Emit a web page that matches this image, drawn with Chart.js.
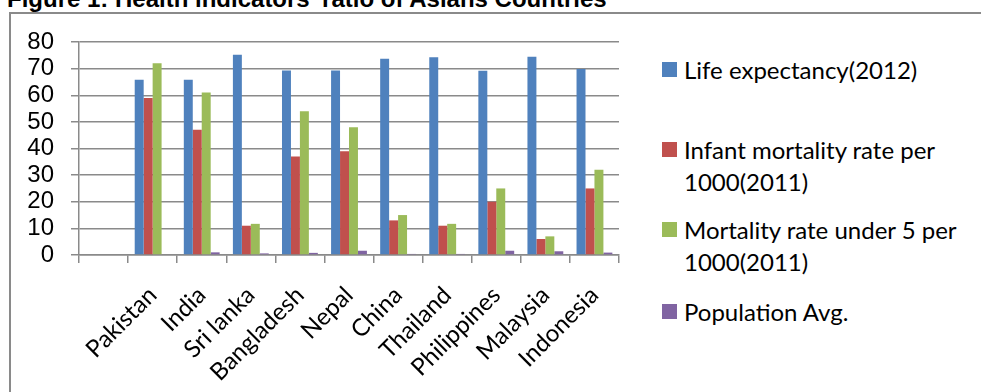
<!DOCTYPE html>
<html>
<head>
<meta charset="utf-8">
<script src="https://cdn.jsdelivr.net/npm/chart.js@4.4.1/dist/chart.umd.min.js"></script>
<style>
  html, body { margin: 0; padding: 0; background: #fff; overflow: hidden; }
  #title {
    position: absolute; left: 7px; top: -13px; white-space: nowrap;
    font: bold 24px/24px "Liberation Sans", Arial, sans-serif; color: #000;
  }
  #frame {
    position: absolute; left: 9px; top: 12px; width: 2000px; height: 2000px;
    border-left: 2px solid #8a8a8a; border-top: 2px solid #8a8a8a;
  }
  #wrap { position: absolute; left: 0; top: 0; width: 640px; height: 392px; }
  #legend { position: absolute; left: 0; top: 0; }
  .lg-item { position: absolute; left: 662px; width: 315px; font: 24px/32px Lato, sans-serif; color: #000; }
  .lg-box { position: absolute; left: 0; top: 8px; width: 15px; height: 15px; }
  .lg-text { position: absolute; left: 22px; width: 295px; }
</style>
</head>
<body>
<div id="title">Figure 1: Health indicators' ratio of Asians Countries</div>
<div id="frame"></div>
<div id="wrap"><canvas id="healthChart"></canvas></div>
<div id="legend"></div>
<script>
  /* ── Data ── */
  const countries = ['', 'Pakistan', 'India', 'Sri lanka', 'Bangladesh', 'Nepal', 'China', 'Thailand', 'Philippines', 'Malaysia', 'Indonesia'];
  const lifeExpectancy = [null, 65.8, 65.8, 75.2, 69.3, 69.3, 73.7, 74.3, 69.2, 74.5, 69.9];
  const infantMortality = [null, 59, 47, 11, 37, 39, 13, 11, 20, 6, 25];
  const under5Mortality = [null, 72, 61, 11.7, 54, 48, 15, 11.7, 25, 7, 32];
  const populationAvg = [null, 0, 1.0, 0.6, 0.8, 1.6, 0.4, 0.4, 1.6, 1.4, 0.9];
  const yTicks = [0, 10, 20, 30, 40, 50, 60, 70, 80];

  const gridColor = '#8a8a8a';

  const chart = new Chart(document.getElementById('healthChart'), {
    type: 'bar',
    data: {
      labels: countries,
      datasets: [
        { label: 'Life expectancy(2012)', data: lifeExpectancy, backgroundColor: '#4F81BD' },
        { label: 'Infant mortality rate per 1000(2011)', data: infantMortality, backgroundColor: '#C0504D' },
        { label: 'Mortality rate under 5 per 1000(2011)', data: under5Mortality, backgroundColor: '#9BBB59' },
        { label: 'Population Avg.', data: populationAvg, backgroundColor: '#8064A2' },
      ],
    },
    options: {
      responsive: true,
      maintainAspectRatio: false,
      animation: false,
      events: [],
      categoryPercentage: 0.73,
      barPercentage: 1.0,
      layout: { padding: { top: 42, right: 21, bottom: 0, left: 0 } },
      plugins: { legend: { display: false }, title: { display: false }, tooltip: { enabled: false } },
      scales: {
        x: {
          grid: { offset: true, drawOnChartArea: false, drawTicks: true, tickLength: 8, color: gridColor, lineWidth: 1.5 },
          border: { display: true, color: gridColor, width: 1.5 },
          ticks: {
            autoSkip: false, maxRotation: 45, minRotation: 45, padding: 18,
            color: '#000', font: { family: 'Lato', size: 24 },
          },
          afterFit: s => { s.height = 137; },
        },
        y: {
          min: 0, max: 80,
          afterBuildTicks: s => { s.ticks = yTicks.map(v => ({ value: v })); },
          grid: { color: gridColor, lineWidth: 1.5, tickLength: 8 },
          border: { display: true, color: gridColor, width: 1.5 },
          ticks: { autoSkip: false, padding: 17, color: '#000', font: { family: 'Liberation Sans', size: 24 } },
          afterFit: s => { s.width = 79; },
        },
      },
    },
  });

  /* ── Legend (Excel style, on the right) ── */
  const legendTops = [54, 134, 214, 296];
  const legend = document.getElementById('legend');
  chart.data.datasets.forEach((ds, i) => {
    const item = document.createElement('div');
    item.className = 'lg-item';
    item.style.top = legendTops[i] + 'px';
    const box = document.createElement('div');
    box.className = 'lg-box';
    box.style.background = ds.backgroundColor;
    const txt = document.createElement('div');
    txt.className = 'lg-text';
    txt.textContent = ds.label;
    item.appendChild(box);
    item.appendChild(txt);
    legend.appendChild(item);
  });
</script>
</body>
</html>
